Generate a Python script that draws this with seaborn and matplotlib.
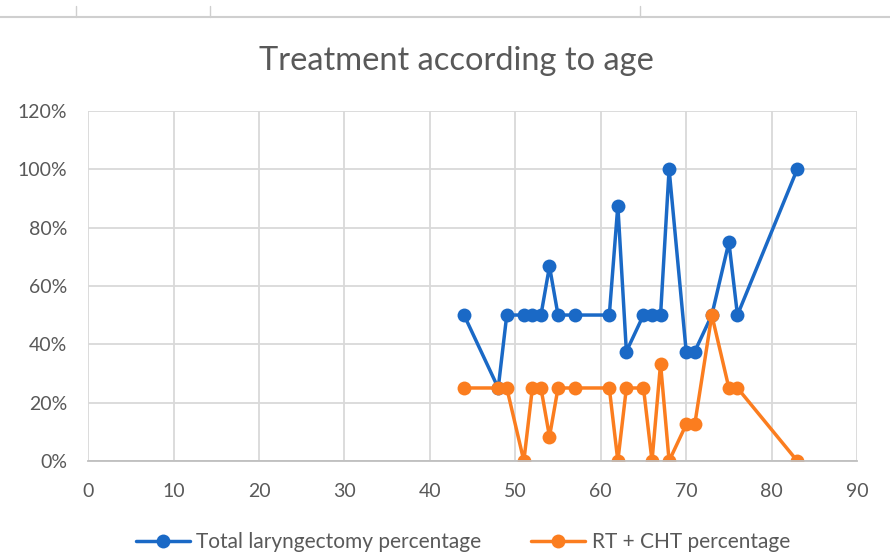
import pandas as pd
import numpy as np
import matplotlib.pyplot as plt
import seaborn as sns
from matplotlib.lines import Line2D
from matplotlib.ticker import FuncFormatter

# ages and percentages
ages = [44, 48, 49, 51, 52, 53, 54, 55, 57, 61, 62, 63, 65, 66, 67, 68, 70, 71, 73, 75, 76, 83]
total_laryngectomy = [50, 25, 50, 50, 50, 50, 66.7, 50, 50, 50, 87.5, 37.5,
                      50, 50, 50, 100, 37.5, 37.5, 50, 75, 50, 100]
rt_cht = [25, 25, 25, 0, 25, 25, 8.3, 25, 25, 25, 0, 25,
          25, 0, 33.3, 0, 12.5, 12.5, 50, 25, 25, 0]

series_names = ["Total laryngectomy percentage", "RT + CHT percentage"]
colors = ["#1a69c6", "#fb7d1f"]

df = pd.concat([
    pd.DataFrame({"age": ages, "pct": total_laryngectomy, "series": series_names[0]}),
    pd.DataFrame({"age": ages, "pct": rt_cht, "series": series_names[1]}),
])

sns.set_style("white")
plt.rcParams['font.family'] = ['Lato', 'DejaVu Sans']

fig = plt.figure(figsize=(8.9, 5.54), dpi=100)
ax = fig.add_axes([0.099, 0.168, 0.864, 0.632])

sns.lineplot(data=df, x="age", y="pct", hue="series", palette=colors,
             marker="o", markersize=10, markeredgewidth=0, linewidth=2.5,
             sort=False, ax=ax, legend=False)

ax.set_xlim(0, 90)
ax.set_ylim(0, 120)
ax.set_xticks(np.arange(0, 91, 10))
ax.set_yticks(np.arange(0, 121, 20))
ax.yaxis.set_major_formatter(FuncFormatter(lambda v, p: f"{v:.0f}%"))
ax.grid(True, color="#d9d9d9", linewidth=1.3)
ax.set_axisbelow(True)
for s in ["top", "right", "left"]:
    ax.spines[s].set_visible(False)
ax.spines["bottom"].set_color("#bfbfbf")
ax.spines["bottom"].set_linewidth(1.3)
ax.tick_params(axis="both", length=0, labelsize=14, colors="#595959")
ax.tick_params(axis="y", pad=15)
ax.tick_params(axis="x", pad=16)
ax.set_xlabel("")
ax.set_ylabel("")

fig.text(0.513, 1 - 70 / 554, "Treatment according to age", ha="center", va="baseline",
         fontsize=23.5, color="#595959")

# gray strip at the very top of the screenshot
fig.add_artist(Line2D([0.0, 1.0], [0.969, 0.969], color="#cfcfcf", linewidth=1.5))
for xt in [0.085, 0.236, 0.719]:
    fig.add_artist(Line2D([xt, xt], [0.969, 0.99], color="#cfcfcf", linewidth=1))

handles = [Line2D([], [], color=c, marker="o", markersize=10, markeredgewidth=0, linewidth=2.5)
           for c in colors]
fig.legend(handles, series_names, loc="center", bbox_to_anchor=(0.52, 1 - 542 / 554),
           ncol=2, frameon=False, fontsize=15, labelcolor="#595959",
           handlelength=2.6, columnspacing=2.4, handletextpad=0.3)

fig.savefig("out.png", dpi=100)
